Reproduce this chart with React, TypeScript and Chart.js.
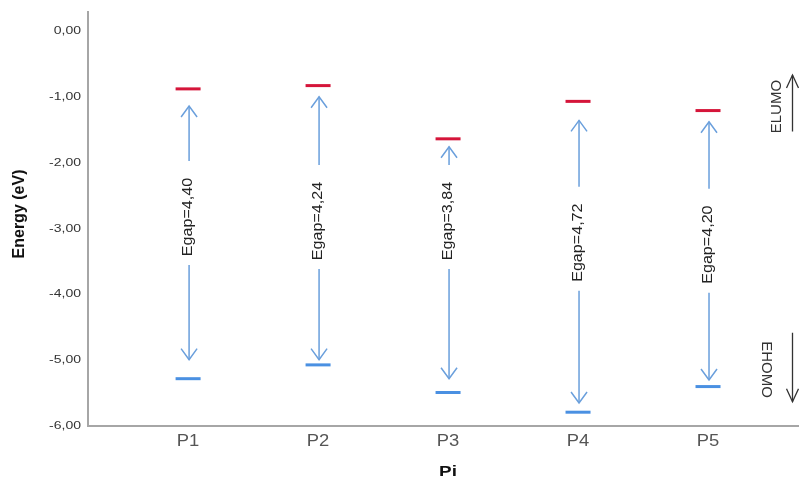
import React, { useEffect, useRef } from 'react';
import { Chart, registerables } from 'chart.js';

Chart.register(...registerables);

// ---- data ----
const categories = ['P1', 'P2', 'P3', 'P4', 'P5'];
const categoryPos = [1, 2, 3, 4, 5];
const lumo = [-0.87, -0.82, -1.63, -1.06, -1.2];
const homo = [-5.28, -5.07, -5.49, -5.79, -5.4];
const gapLabels = ['Egap=4,40', 'Egap=4,24', 'Egap=3,84', 'Egap=4,72', 'Egap=4,20'];
const labelCenter = [-2.82, -2.88, -2.88, -3.21, -3.24];
const arrowTop = [-1.13, -0.99, -1.75, -1.35, -1.37];
const arrowBottom = [-4.99, -4.99, -5.28, -5.65, -5.3];
const yTicks = [0, -1, -2, -3, -4, -5, -6];
const yTickLabels = ['0,00', '-1,00', '-2,00', '-3,00', '-4,00', '-5,00', '-6,00'];
const sideLabels = ['ELUMO', 'EHOMO'];
const sideArrowX = 5.65;
const sideLumoArrow = [-1.52, -0.66];
const sideHomoArrow = [-4.58, -5.63];
const sideLumoText = [5.53, -1.14];
const sideHomoText = [5.45, -5.14];

const FONT = '"Liberation Sans", Arial, sans-serif';

function head(ctx: CanvasRenderingContext2D, x: number, y: number, dir: number, hw: number, len: number) {
  ctx.beginPath();
  ctx.moveTo(x - hw, y - dir * len);
  ctx.lineTo(x, y);
  ctx.lineTo(x + hw, y - dir * len);
  ctx.stroke();
}

const overlay = {
  id: 'overlay',
  afterDraw(chart: any) {
    const ctx: CanvasRenderingContext2D = chart.ctx;
    const xs = chart.scales.x;
    const ys = chart.scales.y;
    ctx.save();

    // y tick labels
    ctx.fillStyle = '#333';
    ctx.font = `10px ${FONT}`;
    ctx.textAlign = 'right';
    ctx.textBaseline = 'middle';
    yTicks.forEach((v, i) => {
      const y = ys.getPixelForValue(v);
      ctx.save();
      ctx.translate(81, y);
      ctx.scale(1.4, 1);
      ctx.fillText(yTickLabels[i], 0, 0);
      ctx.restore();
    });

    // x tick labels
    ctx.fillStyle = '#555';
    ctx.font = `16px ${FONT}`;
    ctx.textAlign = 'center';
    categories.forEach((c, i) => {
      const x = xs.getPixelForValue(categoryPos[i]);
      ctx.save();
      ctx.translate(x, 442);
      ctx.scale(1.15, 1);
      ctx.fillText(c, 0, 0);
      ctx.restore();
    });

    // axis titles
    ctx.fillStyle = '#111';
    ctx.font = `bold 14px ${FONT}`;
    ctx.save();
    ctx.translate(xs.getPixelForValue(3), 472);
    ctx.scale(1.35, 1);
    ctx.fillText('Pi', 0, 0);
    ctx.restore();

    ctx.save();
    ctx.translate(20, 214);
    ctx.rotate(-Math.PI / 2);
    ctx.font = `bold 16px ${FONT}`;
    ctx.fillText('Energy (eV)', 0, 0);
    ctx.restore();

    // gap arrows
    ctx.strokeStyle = '#6a9fdc';
    ctx.lineWidth = 1.5;
    categories.forEach((_, i) => {
      const x = xs.getPixelForValue(categoryPos[i]) + 1;
      const yc = ys.getPixelForValue(labelCenter[i]);
      const yt = ys.getPixelForValue(arrowTop[i]);
      const yb = ys.getPixelForValue(arrowBottom[i]);
      ctx.beginPath();
      ctx.moveTo(x, yt);
      ctx.lineTo(x, yc - 56);
      ctx.moveTo(x, yc + 48);
      ctx.lineTo(x, yb);
      ctx.stroke();
      head(ctx, x, yt, -1, 8, 11);
      head(ctx, x, yb, 1, 8, 11);

      ctx.save();
      ctx.translate(x - 1, yc);
      ctx.rotate(-Math.PI / 2);
      ctx.scale(1.15, 1);
      ctx.fillStyle = '#222';
      ctx.font = `14px ${FONT}`;
      ctx.textAlign = 'center';
      ctx.textBaseline = 'middle';
      ctx.fillText(gapLabels[i], 0, 0);
      ctx.restore();
    });

    // side annotation
    ctx.strokeStyle = '#333';
    ctx.fillStyle = '#333';
    ctx.lineWidth = 1.3;
    const sx = xs.getPixelForValue(sideArrowX);
    const l0 = ys.getPixelForValue(sideLumoArrow[0]);
    const l1 = ys.getPixelForValue(sideLumoArrow[1]);
    const h0 = ys.getPixelForValue(sideHomoArrow[0]);
    const h1 = ys.getPixelForValue(sideHomoArrow[1]);
    ctx.beginPath();
    ctx.moveTo(sx, l0);
    ctx.lineTo(sx, l1);
    ctx.moveTo(sx, h0);
    ctx.lineTo(sx, h1);
    ctx.stroke();
    head(ctx, sx, l1, -1, 6, 13);
    head(ctx, sx, h1, 1, 6, 13);

    ctx.font = `15px ${FONT}`;
    ctx.textAlign = 'center';
    ctx.textBaseline = 'middle';
    ctx.save();
    ctx.translate(xs.getPixelForValue(sideLumoText[0]), ys.getPixelForValue(sideLumoText[1]));
    ctx.rotate(-Math.PI / 2);
    ctx.fillText(sideLabels[0], 0, 0);
    ctx.restore();
    ctx.save();
    ctx.translate(xs.getPixelForValue(sideHomoText[0]), ys.getPixelForValue(sideHomoText[1]));
    ctx.rotate(Math.PI / 2);
    ctx.fillText(sideLabels[1], 0, 0);
    ctx.restore();

    ctx.restore();
  },
};

export default function App() {
  const ref = useRef<HTMLCanvasElement | null>(null);
  useEffect(() => {
    document.body.style.margin = '0';
    document.body.style.overflow = 'hidden';
    document.documentElement.style.overflow = 'hidden';
    const canvas = ref.current!;
    const chart = new Chart(canvas, {
      type: 'scatter',
      data: {
        datasets: [
          {
            label: 'LUMO',
            data: categoryPos.map((x, i) => ({ x, y: lumo[i] })),
            pointStyle: 'line',
            pointRadius: 12.5,
            borderWidth: 3,
            borderColor: '#d5153a',
            backgroundColor: '#d5153a',
          },
          {
            label: 'HOMO',
            data: categoryPos.map((x, i) => ({ x, y: homo[i] })),
            pointStyle: 'line',
            pointRadius: 12.5,
            borderWidth: 3,
            borderColor: '#4a90e2',
            backgroundColor: '#4a90e2',
          },
        ],
      },
      options: {
        responsive: false,
        maintainAspectRatio: false,
        animation: false,
        events: [],
        layout: { autoPadding: false, padding: { top: 12, right: 0, left: 0, bottom: 0 } },
        plugins: { legend: { display: false }, tooltip: { enabled: false } },
        scales: {
          x: {
            type: 'linear',
            min: 0.23,
            max: 5.7,
            grid: { display: false },
            border: { display: true, color: '#a6a6a6', width: 2 },
            ticks: { display: false },
            afterFit: (s: any) => {
              s.height = 60;
            },
          },
          y: {
            type: 'linear',
            min: -6,
            max: 0.3,
            grid: { display: false },
            border: { display: true, color: '#a6a6a6', width: 2 },
            ticks: { display: false },
            afterBuildTicks: (s: any) => {
              s.ticks = yTicks.map((v) => ({ value: v }));
            },
            afterFit: (s: any) => {
              s.width = 88;
            },
          },
        },
      },
      plugins: [overlay],
    } as any);
    return () => chart.destroy();
  }, []);
  return (
    <div style={{ width: 799, height: 486, overflow: 'hidden' }}>
      <canvas ref={ref} width={799} height={486} style={{ display: 'block', width: 799, height: 486 }} />
    </div>
  );
}
